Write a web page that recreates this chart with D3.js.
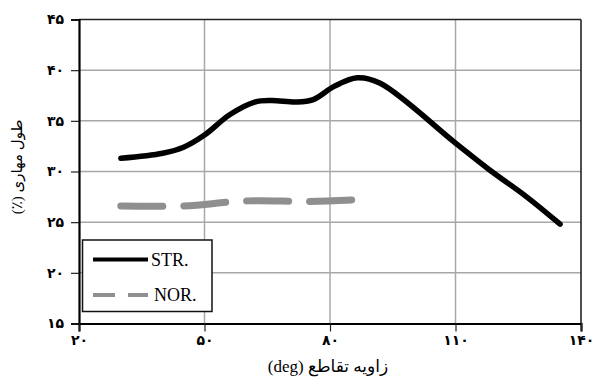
<!DOCTYPE html>
<html>
<head>
<meta charset="utf-8">
<script src="https://cdn.jsdelivr.net/npm/d3@7"></script>
<style>
  html, body { margin: 0; padding: 0; background: #fff; }
  svg { display: block; }
</style>
</head>
<body>
<svg id="chart" width="594" height="387"></svg>
<script>
// ---- data ----
const strX = [30, 40, 45, 50, 56, 62, 66, 72, 76, 81, 86.5, 92, 110, 118, 127, 135];
const strY = [31.3, 31.8, 32.4, 33.6, 35.6, 36.85, 37.0, 36.85, 37.1, 38.4, 39.25, 38.7, 32.8, 30.2, 27.5, 24.8];
const norX = [30, 45, 60, 75, 85.5];
const norY = [26.6, 26.6, 27.1, 27.05, 27.2];
const seriesNames = ["STR.", "NOR."];
const xTicks = [20, 50, 80, 110, 140];
const xTickLabels = ["۲۰", "۵۰", "۸۰", "۱۱۰", "۱۴۰"];
const yTicks = [15, 20, 25, 30, 35, 40, 45];
const yTickLabels = ["۱۵", "۲۰", "۲۵", "۳۰", "۳۵", "۴۰", "۴۵"];
const xTitle = "زاویه تقاطع (deg)";
const yTitle = "طول مهاری (٪)";

// ---- layout ----
const W = 594, H = 387;
const m = { left: 79, top: 19.5, right: 13, bottom: 63.5 };
const iw = W - m.left - m.right, ih = H - m.top - m.bottom;
const fontFam = "'Liberation Serif', 'DejaVu Sans', serif";

const svg = d3.select("#chart");
const g = svg.append("g").attr("transform", `translate(${m.left},${m.top})`);

const x = d3.scaleLinear().domain([20, 140]).range([0, iw]);
const y = d3.scaleLinear().domain([15, 45]).range([ih, 0]);

// grid
g.append("g").selectAll("line.h").data(yTicks.filter(t => t > 15 && t < 45)).join("line")
  .attr("x1", 0).attr("x2", iw).attr("y1", d => y(d)).attr("y2", d => y(d))
  .attr("stroke", "#a8a8a8").attr("stroke-width", 1.5);
g.append("g").selectAll("line.v").data(xTicks.filter(t => t > 20 && t < 140)).join("line")
  .attr("y1", 0).attr("y2", ih).attr("x1", d => x(d)).attr("x2", d => x(d))
  .attr("stroke", "#a8a8a8").attr("stroke-width", 1.5);

// frame (top, right)
g.append("line").attr("x1", 0).attr("x2", iw).attr("y1", 0).attr("y2", 0)
  .attr("stroke", "#222").attr("stroke-width", 1.6);
g.append("line").attr("x1", iw).attr("x2", iw).attr("y1", 0).attr("y2", ih)
  .attr("stroke", "#222").attr("stroke-width", 1.6);

// axes
const yAxis = d3.axisLeft(y).tickValues(yTicks)
  .tickFormat((d, i) => yTickLabels[i]).tickSize(8).tickPadding(7);
const xAxis = d3.axisBottom(x).tickValues(xTicks)
  .tickFormat((d, i) => xTickLabels[i]).tickSize(8).tickPadding(4);

const ya = g.append("g").call(yAxis);
const xa = g.append("g").attr("transform", `translate(0,${ih})`).call(xAxis);
[ya, xa].forEach(a => {
  a.select(".domain").attr("stroke", "#000").attr("stroke-width", 2.2);
  a.selectAll(".tick line").attr("stroke", "#222").attr("stroke-width", 1.2);
  a.selectAll(".tick text").attr("fill", "#000")
    .style("font-family", "'DejaVu Sans', sans-serif").style("font-size", "14px")
    .style("font-weight", "bold");
});

// lines
const line = d3.line().x(d => x(d[0])).y(d => y(d[1])).curve(d3.curveCatmullRom.alpha(0.5));
const strData = strX.map((v, i) => [v, strY[i]]);
const norData = norX.map((v, i) => [v, norY[i]]);

g.append("path").datum(norData).attr("d", line)
  .attr("fill", "none").attr("stroke", "#8f8f8f").attr("stroke-width", 7)
  .attr("stroke-linecap", "round").attr("stroke-dasharray", "42,21");
g.append("path").datum(strData).attr("d", line)
  .attr("fill", "none").attr("stroke", "#000").attr("stroke-width", 5.5)
  .attr("stroke-linecap", "round").attr("stroke-linejoin", "round");

// legend
const lg = svg.append("g");
lg.append("rect").attr("x", 82.5).attr("y", 240).attr("width", 129.5).attr("height", 71.5)
  .attr("fill", "#fff").attr("stroke", "#111").attr("stroke-width", 1.5);
lg.append("line").attr("x1", 93).attr("x2", 148).attr("y1", 259.5).attr("y2", 259.5)
  .attr("stroke", "#000").attr("stroke-width", 4);
lg.append("line").attr("x1", 93).attr("x2", 148).attr("y1", 295).attr("y2", 295)
  .attr("stroke", "#8f8f8f").attr("stroke-width", 4).attr("stroke-dasharray", "22,13");
lg.append("text").attr("x", 151).attr("y", 265.5).text(seriesNames[0])
  .style("font-family", fontFam).style("font-size", "18px").attr("fill", "#000");
lg.append("text").attr("x", 154).attr("y", 301).text(seriesNames[1])
  .style("font-family", fontFam).style("font-size", "18px").attr("fill", "#000");

// axis titles
svg.append("text").attr("x", 328).attr("y", 372)
  .attr("text-anchor", "middle").attr("direction", "rtl").style("direction", "rtl")
  .style("font-family", fontFam).style("font-size", "17px").attr("fill", "#000")
  .text(xTitle);
svg.append("text")
  .attr("transform", "translate(22,167) rotate(-90)")
  .attr("text-anchor", "middle").attr("direction", "rtl").style("direction", "rtl")
  .style("font-family", fontFam).style("font-size", "15px").attr("fill", "#000")
  .text(yTitle);
</script>
</body>
</html>
